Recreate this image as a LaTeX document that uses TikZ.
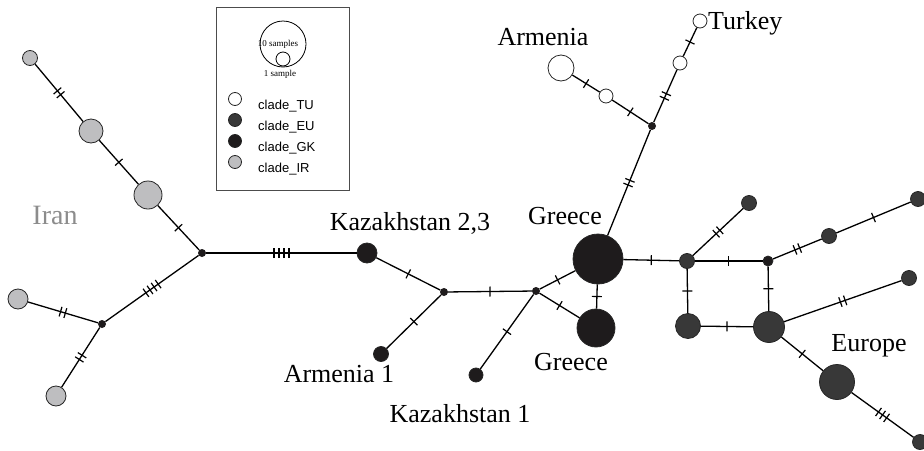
\documentclass[tikz,border=0pt]{standalone}
\usepackage{fontspec}
\setmainfont{Liberation Serif}
\newfontfamily\cladefont{Liberation Sans}
\usetikzlibrary{decorations.markings}

\definecolor{cladeTU}{HTML}{FFFFFF}
\definecolor{cladeEU}{HTML}{383838}
\definecolor{cladeGK}{HTML}{1E1B1C}
\definecolor{cladeIR}{HTML}{BEBEC0}
\definecolor{irantext}{HTML}{8C8C8C}

\tikzset{
	hap/.style={circle,draw=black!85,line width=0.8pt,inner sep=0pt,fill=#1},
	mv/.style={circle,fill=cladeGK,inner sep=0pt,minimum size=8pt},
	link/.style={line width=1.3pt},
	mut/.style={postaction={decorate,decoration={markings,mark=at position .5 with
		{\foreach \k in {1,...,#1} {\draw[line width=1.2pt] ({(\k-(#1+1)/2)*5pt},-5pt) -- ++(0,10pt);}}}}},
	place/.style={font=\fontsize{26}{26}\selectfont,anchor=base,inner sep=0pt},
}

\begin{document}
\begin{tikzpicture}[x=1pt,y=-1pt]
			\useasboundingbox (0,0) rectangle (924,450);
			
			% legend
			\draw[draw=black!70,line width=0.8pt] (216,7) rectangle (349,190);
			\node[circle,draw,line width=0.8pt,inner sep=0pt,minimum size=46pt] (leg10) at (283,44) {};
			\node[circle,draw,line width=0.8pt,inner sep=0pt,minimum size=14pt] (leg1) at (283,59) {};
			\node[font=\fontsize{9}{9}\selectfont,inner sep=0pt] (legt10) at (278,44) {10 samples};
			\node[font=\fontsize{9}{9}\selectfont,inner sep=0pt] (legt1) at (280,74) {1 sample};
			\foreach \c/\n/\y in {cladeTU/TU/99, cladeEU/EU/120, cladeGK/GK/141, cladeIR/IR/162} {
				\node[hap=\c,minimum size=13pt] (key\n) at (235,\y) {};
				\node[font=\cladefont\fontsize{13}{13}\selectfont,anchor=base west,inner sep=0pt] (keyt\n) at (258,\y+10) {clade\_\n};
			}
			
			% Iran
			\node[hap=cladeIR,minimum size=15pt] (i1) at (30,58) {};
			\node[hap=cladeIR,minimum size=24pt] (i2) at (91,131) {};
			\node[hap=cladeIR,minimum size=28pt] (i3) at (148,195) {};
			\node[mv] (iA) at (202,253) {};
			\node[mv] (iB) at (102,324) {};
			\node[hap=cladeIR,minimum size=20pt] (i4) at (18,299) {};
			\node[hap=cladeIR,minimum size=20pt] (i5) at (56,396) {};
			
			% centre
			\node[hap=cladeGK,minimum size=20pt] (k23) at (367,253) {};
			\node[mv] (c1) at (444,292) {};
			\node[hap=cladeGK,minimum size=15pt] (a1) at (381,354) {};
			\node[mv] (c2) at (536,291) {};
			\node[hap=cladeGK,minimum size=14pt] (k1) at (476,375) {};
			\node[hap=cladeGK,minimum size=50pt] (g1) at (598,259) {};
			\node[hap=cladeGK,minimum size=38pt] (g2) at (596,328) {};
			
			% Turkey / Armenia
			\node[mv] (t1) at (652,126) {};
			\node[hap=cladeTU,minimum size=26pt] (arm) at (561,68) {};
			\node[hap=cladeTU,minimum size=14pt] (w1) at (606,96) {};
			\node[hap=cladeTU,minimum size=14pt] (w2) at (680,63) {};
			\node[hap=cladeTU,minimum size=14pt] (w3) at (700,21) {};
			
			% Europe
			\node[hap=cladeEU,minimum size=15pt] (r1) at (687,261) {};
			\node[hap=cladeEU,minimum size=15pt] (r2) at (749,203) {};
			\node[hap=cladeGK,minimum size=10pt] (r3) at (768,261) {};
			\node[hap=cladeEU,minimum size=15pt] (r4) at (829,236) {};
			\node[hap=cladeEU,minimum size=15pt] (r5) at (918,199) {};
			\node[hap=cladeEU,minimum size=25pt] (r6) at (688,326) {};
			\node[hap=cladeEU,minimum size=31pt] (r7) at (769,327) {};
			\node[hap=cladeEU,minimum size=15pt] (r8) at (909,278) {};
			\node[hap=cladeEU,minimum size=35pt] (r9) at (837,382) {};
			\node[hap=cladeEU,minimum size=15pt] (r10) at (920,442) {};
			
			\draw[link,mut=2] (i1) -- (i2);
			\draw[link,mut=1] (i2) -- (i3);
			\draw[link,mut=1] (i3) -- (iA);
			\draw[link,mut=4] (iA) -- (iB);
			\draw[link,mut=2] (i4) -- (iB);
			\draw[link,mut=2] (iB) -- (i5);
			\draw[link,mut=4] (iA) -- (k23);
			\draw[link,mut=1] (k23) -- (c1);
			\draw[link,mut=1] (c1) -- (a1);
			\draw[link,mut=1] (c1) -- (c2);
			\draw[link,mut=1] (c2) -- (k1);
			\draw[link,mut=1] (c2) -- (g1);
			\draw[link,mut=1] (c2) -- (g2);
			\draw[link,mut=1] (g1) -- (g2);
			\draw[link,mut=2] (g1) -- (t1);
			\draw[link,mut=1] (t1) -- (w1);
			\draw[link,mut=1] (w1) -- (arm);
			\draw[link,mut=2] (t1) -- (w2);
			\draw[link,mut=1] (w2) -- (w3);
			\draw[link,mut=1] (g1) -- (r1);
			\draw[link,mut=2] (r1) -- (r2);
			\draw[link,mut=1] (r1) -- (r3);
			\draw[link,mut=2] (r3) -- (r4);
			\draw[link,mut=1] (r4) -- (r5);
			\draw[link,mut=1] (r1) -- (r6);
			\draw[link,mut=1] (r3) -- (r7);
			\draw[link,mut=1] (r6) -- (r7);
			\draw[link,mut=2] (r7) -- (r8);
			\draw[link,mut=1] (r7) -- (r9);
			\draw[link,mut=3] (r9) -- (r10);
			
			% labels
			\node[place,font=\fontsize{28}{28}\selectfont,text=irantext] (lIran) at (55,224) {Iran};
			\node[place] (lKaz23) at (410,230) {Kazakhstan 2,3};
			\node[place] (lArm1) at (339,382) {Armenia 1};
			\node[place] (lKaz1) at (460,422) {Kazakhstan 1};
			\node[place] (lGre1) at (565,224) {Greece};
			\node[place] (lGre2) at (571,370) {Greece};
			\node[place] (lArm) at (543,45) {Armenia};
			\node[place,anchor=base west] (lTur) at (708,29) {Turkey};
			\node[place] (lEur) at (869,351) {Europe};
		\end{tikzpicture}
\end{document}
